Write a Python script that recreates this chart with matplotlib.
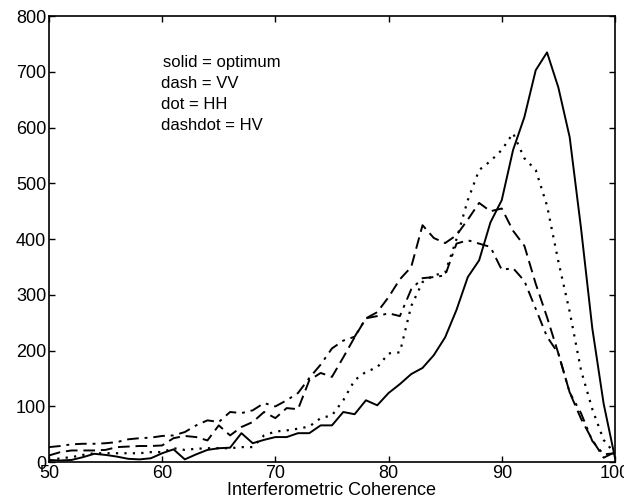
import numpy as np
import matplotlib
matplotlib.use('Agg')
import matplotlib.pyplot as plt
import matplotlib as mpl

mpl.rcParams['font.family'] = ['Liberation Sans', 'DejaVu Sans']
mpl.rcParams['font.size'] = 13

# coherence bins (percent)
coherence = np.arange(50, 101)

optimum = [4, 3, 4, 9, 15, 13, 10, 6, 5, 7,
           16, 23, 5, 14, 22, 25, 26, 52, 34, 40,
           45, 45, 52, 52, 66, 66, 90, 86, 111, 102,
           124, 140, 158, 169, 192, 224, 273, 332, 362, 430,
           470, 560, 619, 703, 735, 672, 583, 420, 240, 105,
           8]
vv = [12, 18, 21, 21, 21, 22, 27, 28, 29, 29,
      30, 43, 47, 45, 39, 66, 48, 63, 72, 90,
      79, 97, 95, 147, 160, 153, 188, 224, 258, 269,
      296, 328, 350, 425, 402, 393, 407, 435, 465, 450,
      455, 415, 388, 320, 260, 195, 125, 78, 40, 8,
      18]
hh = [3, 7, 9, 13, 16, 16, 16, 16, 16, 18,
      18, 25, 22, 24, 25, 25, 25, 27, 27, 48,
      55, 57, 60, 64, 79, 84, 111, 147, 162, 170,
      195, 197, 280, 323, 335, 340, 400, 470, 524, 540,
      560, 590, 545, 524, 460, 360, 270, 165, 95, 40,
      15]
hv = [27, 29, 32, 33, 33, 34, 36, 41, 43, 44,
      47, 48, 54, 66, 75, 72, 90, 88, 93, 106,
      100, 111, 124, 151, 175, 204, 218, 225, 258, 262,
      267, 262, 310, 330, 332, 335, 392, 398, 392, 386,
      345, 348, 325, 275, 225, 195, 125, 88, 38, 14,
      16]

legend_lines = ['solid = optimum', 'dash = VV', 'dot = HH', 'dashdot = HV']

fig = plt.figure(figsize=(6.24, 5.04), dpi=100)
ax = fig.add_axes([0.0785, 0.083, 0.907, 0.885])

ax.plot(coherence, optimum, color='black', linestyle='-', linewidth=1.4)
ax.plot(coherence, vv, color='black', linestyle=(0, (6, 3)), linewidth=1.4)
ax.plot(coherence, hh, color='black', linestyle=(0, (1, 2.8)), linewidth=1.6)
ax.plot(coherence, hv, color='black', linestyle=(0, (6, 3, 1.5, 3)), linewidth=1.4)

ax.set_xlim(50, 100)
ax.set_ylim(0, 800)
ax.set_xticks(np.arange(50, 101, 10))
ax.set_yticks(np.arange(0, 801, 100))
ax.tick_params(direction='in', top=True, right=True, length=4, width=1, pad=2)
for s in ax.spines.values():
    s.set_linewidth(1.2)
ax.set_xlabel('Interferometric Coherence', labelpad=0)

# legend text block
for i, txt in enumerate(legend_lines):
    ax.text(59.9 if i else 60.1, 717 - i * 37.5, txt, fontsize=12, va='center', ha='left')

plt.savefig('out.png', dpi=100)
